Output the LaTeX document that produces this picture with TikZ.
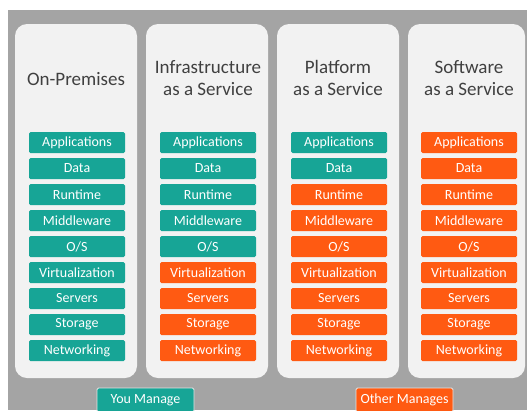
\documentclass[tikz,border=0pt]{standalone}
\usepackage{fontspec}
\setmainfont{Carlito}
\definecolor{bggray}{HTML}{A4A4A4}
\definecolor{panel}{HTML}{F2F2F2}
\definecolor{teal}{HTML}{17A596}
\definecolor{orng}{HTML}{FF5A12}
\definecolor{titlegray}{HTML}{404040}
\begin{document}
\begin{tikzpicture}[x=1pt,y=-1pt,
  panelbox/.style={fill=panel,draw=none,rounded corners=12pt},
  layer/.style={minimum width=96pt,minimum height=21pt,inner sep=0pt,rounded corners=1.5pt,text=white,font=\fontsize{14}{16}\selectfont},
  you/.style={layer,fill=teal},
  oth/.style={layer,fill=orng},
  ttl/.style={align=center,text=titlegray,font=\fontsize{19}{22}\selectfont},
  legend/.style={layer,draw=white!80!gray,line width=0.8pt,minimum width=97pt,minimum height=24pt}]
\useasboundingbox (0,0) rectangle (527,410);
\fill[white] (0,0) rectangle (527,410);
\fill[bggray] (8,10) rectangle (527,410);
\fill[panelbox] (15,24) rectangle (137,378);
\fill[panelbox] (146,24) rectangle (268,378);
\fill[panelbox] (277,24) rectangle (399,378);
\fill[panelbox] (408,24) rectangle (525,378);
\node[ttl] (t1) at (76,79) {On-Premises};
\node[ttl] (t2) at (208,78) {Infrastructure\\as a Service};
\node[ttl] (t3) at (338,78) {Platform\\as a Service};
\node[ttl] (t4) at (469,78) {Software\\as a Service};
\foreach \n [count=\i from 0] in {Applications,Data,Runtime,Middleware,O/S,Virtualization,Servers,Storage,Networking}{
  \node[you] (a\i) at (77,{142.5+26*\i}) {\n};
}
\foreach \n [count=\i from 0] in {Applications,Data,Runtime,Middleware,O/S}{
  \node[you] (b\i) at (208,{142.5+26*\i}) {\n};
}
\foreach \n [count=\i from 5] in {Virtualization,Servers,Storage,Networking}{
  \node[oth] (b\i) at (208,{142.5+26*\i}) {\n};
}
\foreach \n [count=\i from 0] in {Applications,Data}{
  \node[you] (c\i) at (339,{142.5+26*\i}) {\n};
}
\foreach \n [count=\i from 2] in {Runtime,Middleware,O/S,Virtualization,Servers,Storage,Networking}{
  \node[oth] (c\i) at (339,{142.5+26*\i}) {\n};
}
\foreach \n [count=\i from 0] in {Applications,Data,Runtime,Middleware,O/S,Virtualization,Servers,Storage,Networking}{
  \node[oth] (d\i) at (469,{142.5+26*\i}) {\n};
}
\node[legend,fill=teal] (lyou) at (145.5,400) {You Manage};
\node[legend,fill=orng] (loth) at (404.5,400) {Other Manages};
\end{tikzpicture}
\end{document}
